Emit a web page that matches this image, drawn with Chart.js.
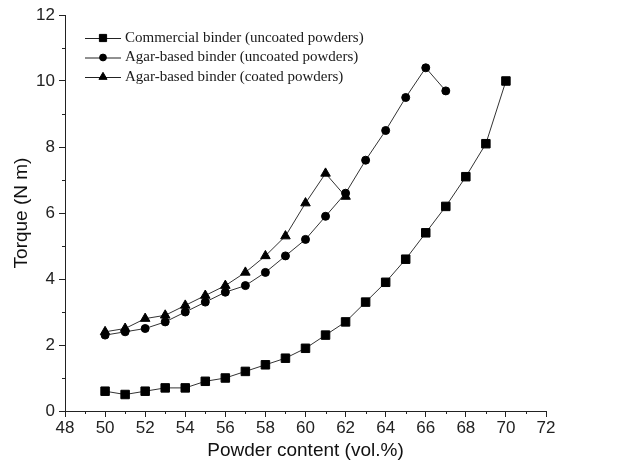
<!DOCTYPE html>
<html>
<head>
<meta charset="utf-8">
<script src="https://cdn.jsdelivr.net/npm/chart.js@4.4.0/dist/chart.umd.min.js"></script>
<style>
html, body { margin: 0; padding: 0; background: #fff; }
</style>
</head>
<body>
<canvas id="myChart" width="623" height="468"></canvas>
<script>
// powder content (vol.%)
var powder = [50, 51, 52, 53, 54, 55, 56, 57, 58, 59, 60, 61, 62, 63, 64, 65, 66, 67, 68, 69, 70];

// torque (N m)
var commercialUncoated = [0.6, 0.5, 0.6, 0.7, 0.7, 0.9, 1.0, 1.2, 1.4, 1.6, 1.9, 2.3, 2.7, 3.3, 3.9, 4.6, 5.4, 6.2, 7.1, 8.1, 10.0];
var agarUncoated = [2.3, 2.4, 2.5, 2.7, 3.0, 3.3, 3.6, 3.8, 4.2, 4.7, 5.2, 5.9, 6.6, 7.6, 8.5, 9.5, 10.4, 9.7];
var agarCoated = [2.4, 2.5, 2.8, 2.9, 3.2, 3.5, 3.8, 4.2, 4.7, 5.3, 6.3, 7.2, 6.5];

var seriesNames = [
    'Commercial binder (uncoated powders)',
    'Agar-based binder (uncoated powders)',
    'Agar-based binder (coated powders)'
];

function toPoints(vals) {
    var pts = [];
    for (var i = 0; i < vals.length; i++) {
        pts.push({ x: powder[i], y: vals[i] });
    }
    return pts;
}

// minor ticks at odd values (chart.js has no minor ticks)
var minorTicks = {
    id: 'minorTicks',
    afterDraw: function (chart) {
        var ctx = chart.ctx;
        var xs = chart.scales.x, ys = chart.scales.y;
        var area = chart.chartArea;
        ctx.save();
        ctx.strokeStyle = '#222';
        ctx.lineWidth = 1;
        ctx.beginPath();
        for (var v = 49; v < 72; v += 2) {
            var px = Math.round(xs.getPixelForValue(v)) + 0.5;
            ctx.moveTo(px, area.bottom);
            ctx.lineTo(px, area.bottom + 3);
        }
        for (var w = 1; w < 12; w += 2) {
            var py = Math.round(ys.getPixelForValue(w)) + 0.5;
            ctx.moveTo(area.left, py);
            ctx.lineTo(area.left - 3, py);
        }
        ctx.stroke();
        ctx.restore();
    }
};

// legend drawn like the original: line - marker - line, serif text
var figLegend = {
    id: 'figLegend',
    afterDraw: function (chart) {
        var ctx = chart.ctx;
        ctx.save();
        chart.data.datasets.forEach(function (ds, i) {
            var y = 38 + i * 19.5;
            ctx.strokeStyle = '#222';
            ctx.lineWidth = 1;
            ctx.beginPath();
            ctx.moveTo(85, y + 0.5);
            ctx.lineTo(121, y + 0.5);
            ctx.stroke();
            ctx.fillStyle = '#000';
            ctx.strokeStyle = '#000';
            Chart.helpers.drawPoint(ctx, {
                pointStyle: ds.pointStyle,
                radius: ds.pointRadius * 0.85,
                rotation: 0,
                borderWidth: 1
            }, 103, y);
            ctx.fillStyle = '#1a1a1a';
            ctx.font = '15px "Liberation Serif", "Times New Roman", serif';
            ctx.textBaseline = 'middle';
            ctx.textAlign = 'left';
            ctx.fillText(seriesNames[i], 125, y);
        });
        ctx.restore();
    }
};

var ctx = document.getElementById('myChart');
var myChart = new Chart(ctx, {
    type: 'line',
    data: {
        datasets: [{
            label: seriesNames[0],
            data: toPoints(commercialUncoated),
            pointStyle: 'rect',
            pointRadius: 6,
            borderColor: '#333',
            borderWidth: 1,
            pointBackgroundColor: '#000',
            pointBorderColor: '#000',
            pointBorderWidth: 1
        }, {
            label: seriesNames[1],
            data: toPoints(agarUncoated),
            pointStyle: 'circle',
            pointRadius: 4,
            borderColor: '#333',
            borderWidth: 1,
            pointBackgroundColor: '#000',
            pointBorderColor: '#000',
            pointBorderWidth: 1
        }, {
            label: seriesNames[2],
            data: toPoints(agarCoated),
            pointStyle: 'triangle',
            pointRadius: 5.5,
            borderColor: '#333',
            borderWidth: 1,
            pointBackgroundColor: '#000',
            pointBorderColor: '#000',
            pointBorderWidth: 1
        }]
    },
    options: {
        responsive: false,
        animation: false,
        devicePixelRatio: 1,
        layout: { padding: { top: 15, right: 77, left: 0, bottom: 0 } },
        plugins: {
            legend: { display: false },
            tooltip: { enabled: false }
        },
        scales: {
            x: {
                type: 'linear',
                min: 48,
                max: 72,
                afterFit: function (scale) { scale.height = 57; },
                ticks: {
                    stepSize: 2,
                    color: '#222',
                    padding: 1,
                    maxRotation: 0,
                    font: { family: '"Liberation Sans", Arial, sans-serif', size: 17 }
                },
                grid: { drawOnChartArea: false, drawTicks: true, tickLength: 6, color: '#222' },
                border: { display: true, color: '#222', width: 1 },
                title: {
                    display: true,
                    text: 'Powder content (vol.%)',
                    color: '#111',
                    padding: { top: 0, bottom: 6 },
                    font: { family: '"Liberation Sans", Arial, sans-serif', size: 19 }
                }
            },
            y: {
                type: 'linear',
                min: 0,
                max: 12,
                afterFit: function (scale) { scale.width = 65; },
                ticks: {
                    stepSize: 2,
                    color: '#222',
                    padding: 4,
                    font: { family: '"Liberation Sans", Arial, sans-serif', size: 17 }
                },
                grid: { drawOnChartArea: false, drawTicks: true, tickLength: 6, color: '#222' },
                border: { display: true, color: '#222', width: 1 },
                title: {
                    display: true,
                    text: 'Torque (N m)',
                    color: '#111',
                    padding: { top: 10, bottom: 0 },
                    font: { family: '"Liberation Sans", Arial, sans-serif', size: 19 }
                }
            }
        }
    },
    plugins: [minorTicks, figLegend]
});
</script>
</body>
</html>
